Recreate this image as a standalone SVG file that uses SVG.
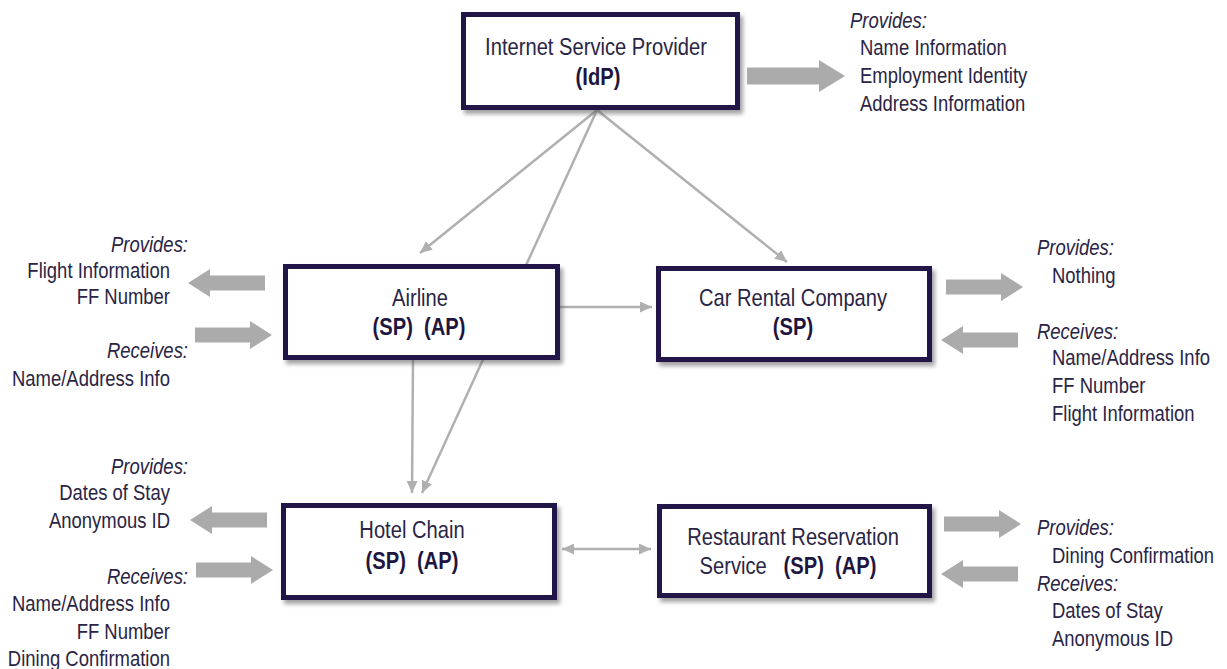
<svg xmlns="http://www.w3.org/2000/svg" xmlns:xlink="http://www.w3.org/1999/xlink" width="1227" height="669" viewBox="0 0 1227 669">
  <style>
    .box { fill: #ffffff; stroke: #21124a; stroke-width: 5; filter: url(#shadow); }
    .nt { font-family: "Liberation Sans", Arial, sans-serif; font-size: 24px; fill: #2a2545; text-anchor: middle; }
    .b { font-weight: bold; fill: #1e1540; }
    .st { font-family: "Liberation Sans", Arial, sans-serif; font-size: 22px; fill: #2a2545; }
    .it { font-style: italic; }
    .end { text-anchor: end; }
    .conn { stroke: #b0b0b0; stroke-width: 2.5; fill: none; }
    .blk { fill: #ababab; }
  </style>
  <defs>
    <filter id="shadow" x="-10%" y="-10%" width="125%" height="130%">
      <feDropShadow dx="3" dy="4" stdDeviation="2" flood-color="#555555" flood-opacity="0.55"/>
    </filter>
    <marker id="ah" markerWidth="13" markerHeight="11" refX="12" refY="5.5" orient="auto-start-reverse" markerUnits="userSpaceOnUse">
      <path d="M0,0 L12,5.5 L0,11 z" fill="#b0b0b0"/>
    </marker>
    <path id="blk" class="blk" d="M0,-7.5 L55,-7.5 L55,-14 L77,0 L55,14 L55,7.5 L0,7.5 Z"/>
    <path id="blkBig" class="blk" d="M0,-8.5 L72,-8.5 L72,-16 L98,0 L72,16 L72,8.5 L0,8.5 Z"/>
  </defs>

  <g id="connectors">
    <line class="conn" x1="597" y1="110" x2="420" y2="253" marker-end="url(#ah)"/>
    <line class="conn" x1="597" y1="110" x2="422" y2="493" marker-end="url(#ah)"/>
    <line class="conn" x1="597" y1="110" x2="787" y2="262" marker-end="url(#ah)"/>
    <line class="conn" x1="560" y1="307" x2="652" y2="307" marker-end="url(#ah)"/>
    <line class="conn" x1="413" y1="360" x2="412" y2="493" marker-end="url(#ah)"/>
    <line class="conn" x1="562" y1="549" x2="651" y2="549" marker-start="url(#ah)" marker-end="url(#ah)"/>
  </g>

  <g id="flows">
    <use xlink:href="#blkBig" transform="translate(747,76)"/>
    <use xlink:href="#blk" transform="translate(265,283) scale(-1,1)"/>
    <use xlink:href="#blk" transform="translate(195,335)"/>
    <use xlink:href="#blk" transform="translate(946,287)"/>
    <use xlink:href="#blk" transform="translate(1018,340) scale(-1,1)"/>
    <use xlink:href="#blk" transform="translate(267,520) scale(-1,1)"/>
    <use xlink:href="#blk" transform="translate(196,570)"/>
    <use xlink:href="#blk" transform="translate(944,524)"/>
    <use xlink:href="#blk" transform="translate(1018,574) scale(-1,1)"/>
  </g>

  <g id="isp">
    <rect class="box" x="463.5" y="14.5" width="274" height="93"/>
    <text class="nt" transform="translate(596,55) scale(0.84,1)">Internet Service Provider</text>
    <text class="nt b" transform="translate(598,85) scale(0.84,1)">(IdP)</text>
  </g>
  <g id="airline">
    <rect class="box" x="285.5" y="266.5" width="272" height="91"/>
    <text class="nt" transform="translate(420,306) scale(0.84,1)">Airline</text>
    <text class="nt b" transform="translate(419,335) scale(0.84,1)" xml:space="preserve">(SP)  (AP)</text>
  </g>
  <g id="carrental">
    <rect class="box" x="658.5" y="268.5" width="271" height="91"/>
    <text class="nt" transform="translate(793,306) scale(0.84,1)">Car Rental Company</text>
    <text class="nt b" transform="translate(793,335) scale(0.84,1)">(SP)</text>
  </g>
  <g id="hotel">
    <rect class="box" x="283.5" y="505.5" width="271" height="92"/>
    <text class="nt" transform="translate(412,538) scale(0.84,1)">Hotel Chain</text>
    <text class="nt b" transform="translate(412,569) scale(0.84,1)" xml:space="preserve">(SP)  (AP)</text>
  </g>
  <g id="restaurant">
    <rect class="box" x="659.5" y="506.5" width="270" height="89"/>
    <text class="nt" transform="translate(793,545) scale(0.84,1)">Restaurant Reservation</text>
    <text class="nt" transform="translate(788,574) scale(0.84,1)" xml:space="preserve">Service   <tspan class="b">(SP)  (AP)</tspan></text>
  </g>

  <g id="isp-info" class="st">
    <text class="it" transform="translate(850,28) scale(0.84,1)">Provides:</text>
    <text transform="translate(860,55) scale(0.84,1)">Name Information</text>
    <text transform="translate(860,83) scale(0.84,1)">Employment Identity</text>
    <text transform="translate(860,111) scale(0.84,1)">Address Information</text>
  </g>
  <g id="airline-info" class="st">
    <text class="it end" transform="translate(188,252) scale(0.84,1)">Provides:</text>
    <text class="end" transform="translate(170,278) scale(0.84,1)">Flight Information</text>
    <text class="end" transform="translate(170,304) scale(0.84,1)">FF Number</text>
    <text class="it end" transform="translate(188,358) scale(0.84,1)">Receives:</text>
    <text class="end" transform="translate(170,386) scale(0.84,1)">Name/Address Info</text>
  </g>
  <g id="carrental-info" class="st">
    <text class="it" transform="translate(1037,255) scale(0.84,1)">Provides:</text>
    <text transform="translate(1052,283) scale(0.84,1)">Nothing</text>
    <text class="it" transform="translate(1037,339) scale(0.84,1)">Receives:</text>
    <text transform="translate(1052,365) scale(0.84,1)">Name/Address Info</text>
    <text transform="translate(1052,393) scale(0.84,1)">FF Number</text>
    <text transform="translate(1052,421) scale(0.84,1)">Flight Information</text>
  </g>
  <g id="hotel-info" class="st">
    <text class="it end" transform="translate(188,474) scale(0.84,1)">Provides:</text>
    <text class="end" transform="translate(170,500) scale(0.84,1)">Dates of Stay</text>
    <text class="end" transform="translate(170,528) scale(0.84,1)">Anonymous ID</text>
    <text class="it end" transform="translate(188,584) scale(0.84,1)">Receives:</text>
    <text class="end" transform="translate(170,611) scale(0.84,1)">Name/Address Info</text>
    <text class="end" transform="translate(170,639) scale(0.84,1)">FF Number</text>
    <text class="end" transform="translate(170,666) scale(0.84,1)">Dining Confirmation</text>
  </g>
  <g id="restaurant-info" class="st">
    <text class="it" transform="translate(1037,535) scale(0.84,1)">Provides:</text>
    <text transform="translate(1052,563) scale(0.84,1)">Dining Confirmation</text>
    <text class="it" transform="translate(1037,591) scale(0.84,1)">Receives:</text>
    <text transform="translate(1052,618) scale(0.84,1)">Dates of Stay</text>
    <text transform="translate(1052,646) scale(0.84,1)">Anonymous ID</text>
  </g>
</svg>
